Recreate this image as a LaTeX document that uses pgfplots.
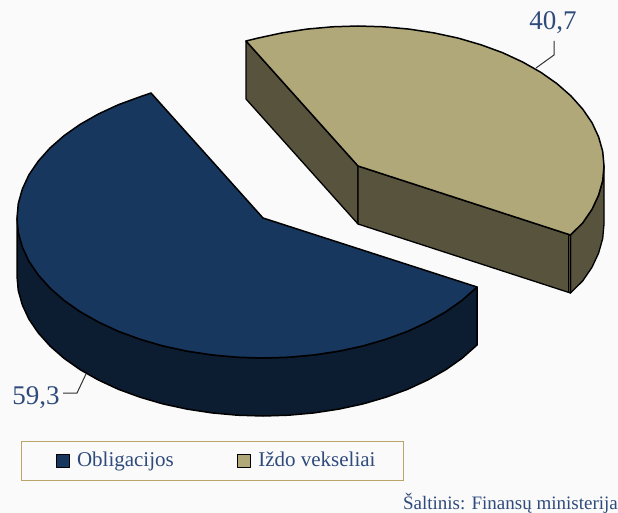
\documentclass[border=0pt]{standalone}
\usepackage{pgfplots}
\usepackage{fontspec}
\setmainfont{Liberation Serif}
\pgfplotsset{compat=1.18}
\definecolor{bg}{HTML}{FAFAFA}
\definecolor{bluetop}{HTML}{17375E}
\definecolor{blueside}{HTML}{0C1C31}
\definecolor{yeltop}{HTML}{B0A878}
\definecolor{yelside}{HTML}{58533C}
\definecolor{txt}{HTML}{2F4B7C}
\definecolor{legborder}{HTML}{BBA468}
\definecolor{leader}{HTML}{333333}
\begin{document}
\begin{tikzpicture}
\begin{axis}[
  width=618pt, height=513pt, scale only axis,
  xmin=0, xmax=618, ymin=0, ymax=513, y dir=reverse,
  hide axis, clip=true,
  legend columns=2,
  legend cell align=left,
  legend image code/.code={\path (-11pt,0pt) (15pt,0pt);\draw[#1,line width=1.4pt,draw=black] (0pt,-6.5pt) rectangle (13pt,6.5pt);},
  legend style={at={(axis cs:21,441)}, anchor=north west, draw=legborder, fill=bg, line width=1pt,
    font=\fontsize{21}{24}\selectfont, text=txt, inner xsep=23pt, inner ysep=5pt,
    /tikz/every even column/.append style={column sep=47pt},
    nodes={inner xsep=5pt, inner ysep=5pt, text depth=4pt}},
]
% background
\addplot[fill=bg, draw=none, forget plot] coordinates {(0,0)(618,0)(618,513)(0,513)} --cycle;
% blue side
\addplot[fill=blueside, draw=black, line width=1.5pt, line join=round, forget plot] coordinates {
(17,218)(18.3,232.6)(22.4,247.1)(29,261.3)(38.3,274.9)(50,288)(64,300.3)(80.2,311.7)(98.4,322)(118.4,331.3)(140,339.2)(162.9,345.9)(187,351.1)(211.9,354.9)(237.3,357.2)(263,358)(288.7,357.2)(314.1,354.9)(339,351.1)(363.1,345.9)(386,339.2)(407.6,331.3)(427.6,322)(445.8,311.7)(462,300.3)(477,287)
(477,345)(462,358.3)(445.8,369.7)(427.6,380)(407.6,389.3)(386,397.2)(363.1,403.9)(339,409.1)(314.1,412.9)(288.7,415.2)(263,416)(237.3,415.2)(211.9,412.9)(187,409.1)(162.9,403.9)(140,397.2)(118.4,389.3)(98.4,380)(80.2,369.7)(64,358.3)(50,346)(38.3,332.9)(29,319.3)(22.4,305.1)(18.3,290.6)(17,276)
} --cycle;
% yellow sides
\addplot[fill=yelside, draw=black, line width=1.3pt, line join=round, forget plot] coordinates {(246,41)(246,99)(358,224)(358,166)} --cycle;
\addplot[fill=yelside, draw=black, line width=1.3pt, line join=round, forget plot] coordinates {
(570.5,235)(582.7,222.9)(592,209.3)(598.6,195.1)(602.7,180.6)(604,166)(604,224)(602.7,238.6)(598.6,253.1)(592,267.3)(582.7,280.9)(570.5,293)} --cycle;
\addplot[fill=yelside, draw=black, line width=1.3pt, line join=round, forget plot] coordinates {(358,166)(358,224)(570.5,293)(570.5,235)} --cycle;
\addplot[draw=black, line width=0.7pt, forget plot] coordinates {(568.5,235)(568.5,292)};
% tops
\addplot[fill=bluetop, draw=black, line width=1.5pt, line join=round] coordinates {
(263,218)(151,93)(140,96.8)(118.4,104.7)(98.4,114)(80.2,124.3)(64,135.7)(50,148)(38.3,161.1)(29,174.7)(22.4,188.9)(18.3,203.4)(17,218)(18.3,232.6)(22.4,247.1)(29,261.3)(38.3,274.9)(50,288)(64,300.3)(80.2,311.7)(98.4,322)(118.4,331.3)(140,339.2)(162.9,345.9)(187,351.1)(211.9,354.9)(237.3,357.2)(263,358)(288.7,357.2)(314.1,354.9)(339,351.1)(363.1,345.9)(386,339.2)(407.6,331.3)(427.6,322)(445.8,311.7)(462,300.3)(477,287)
} --cycle;
\addplot[fill=yeltop, draw=black, line width=1.5pt, line join=round] coordinates {
(358,166)(246,41)(257.9,38.1)(282,32.9)(306.9,29.1)(332.3,26.8)(358,26)(383.7,26.8)(409.1,29.1)(434,32.9)(458.1,38.1)(481,44.8)(502.6,52.7)(522.6,62)(540.8,72.3)(557,83.7)(571,96)(582.7,109.1)(592,122.7)(598.6,136.9)(602.7,151.4)(604,166)(602.7,180.6)(598.6,195.1)(592,209.3)(582.7,222.9)(570.5,235)
} --cycle;
% leaders
\addplot[leader, line width=1pt, forget plot] coordinates {(554,41)(554,55)(536,68)};
\addplot[leader, line width=1pt, forget plot] coordinates {(63,393)(77,393)(86,374)};
\node[anchor=base, text=txt, font=\fontsize{27}{30}\selectfont] at (axis cs:553,30) {40,7};
\node[anchor=base, text=txt, font=\fontsize{27}{30}\selectfont] at (axis cs:36,404) {59,3};
\node[anchor=base east, inner xsep=0pt, text=txt, font=\fontsize{19}{22}\selectfont] at (axis cs:618,509) {Šaltinis: Finansų ministerija};
\legend{Obligacijos, Iždo vekseliai}
\end{axis}
\end{tikzpicture}
\end{document}
